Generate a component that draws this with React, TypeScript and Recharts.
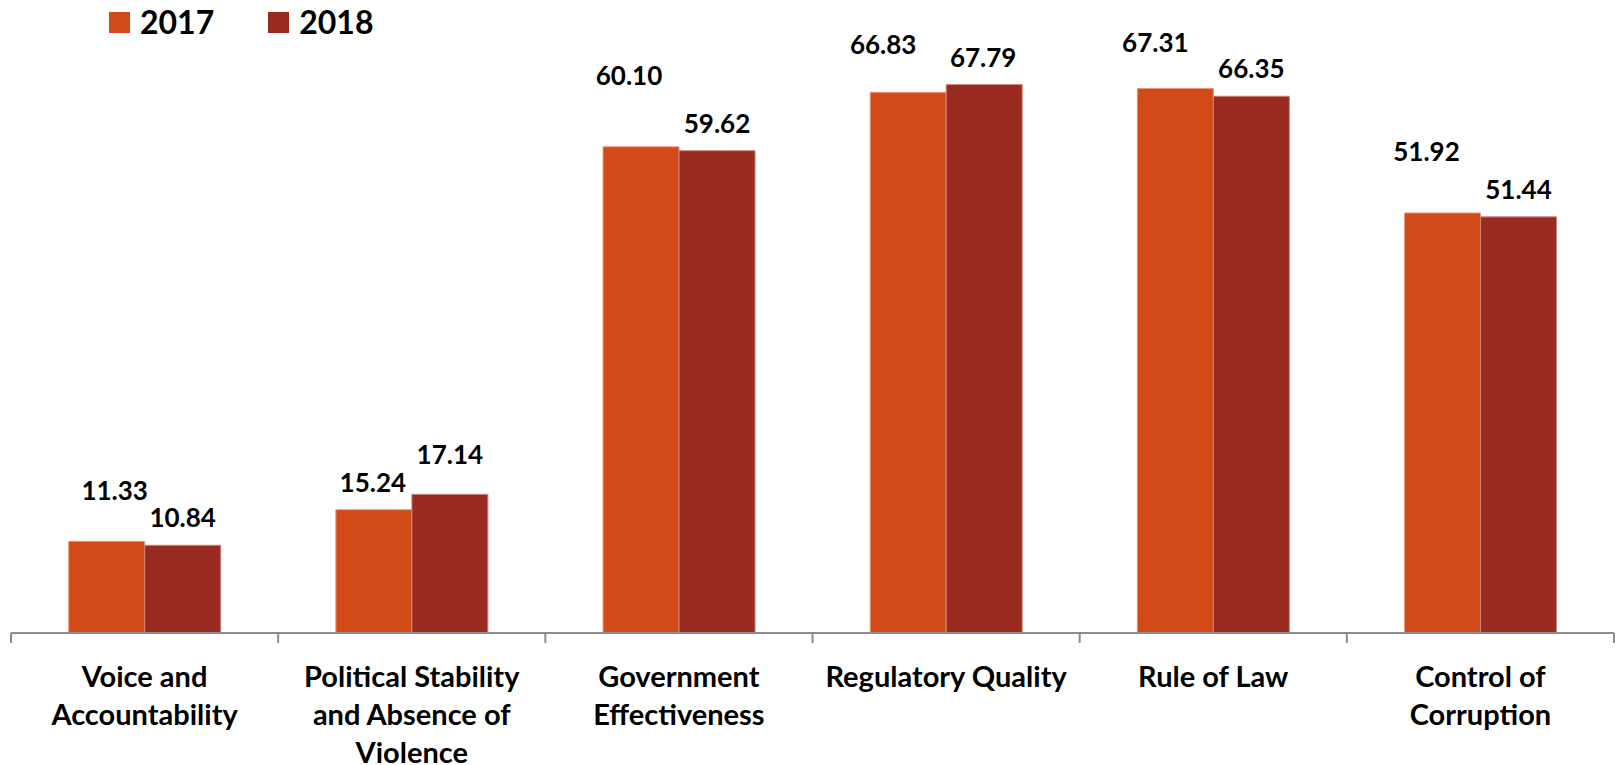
import { BarChart, Bar, XAxis, YAxis, Legend, LabelList } from 'recharts'

const categories = [
  'Voice and\nAccountability',
  'Political Stability\nand Absence of\nViolence',
  'Government\nEffectiveness',
  'Regulatory Quality',
  'Rule of Law',
  'Control of\nCorruption',
]
const values2017 = [11.33, 15.24, 60.1, 66.83, 67.31, 51.92]
const values2018 = [10.84, 17.14, 59.62, 67.79, 66.35, 51.44]

// hand-placed label nudges, relative to the top centre of each bar
const labelDx2017 = [8, -1, -12, -25, -20, -16]
const labelDy2017 = [-51, -28, -72, -48, -46, -62]
const labelDx2018 = [0, 0, 0, -1, 0, 0]
const labelDy2018 = [-28, -40, -28, -28, -28, -28]

const COLOR_2017 = '#D34A19'
const COLOR_2018 = '#9A2B20'
const FONT = 'Lato, "Open Sans", sans-serif'

const WIDTH = 1615
const HEIGHT = 765
const MARGIN = { top: 2, right: 1, bottom: 2, left: 11 }
const BAND = (WIDTH - MARGIN.left - MARGIN.right) / categories.length

const chartData = categories.map((name, i) => ({
  name,
  y2017: values2017[i],
  y2018: values2018[i],
}))

function makeLabel(dxs: number[], dys: number[]) {
  return (props: any) => {
    const { x, y, width, value, index } = props
    return (
      <text
        x={x + width / 2 + dxs[index]}
        y={y + dys[index]}
        textAnchor="middle"
        dominantBaseline="central"
        fontFamily={FONT}
        fontWeight={700}
        fontSize={26}
        fill="#000"
      >
        {Number(value).toFixed(2)}
      </text>
    )
  }
}

function CategoryTick(props: any) {
  const { x, y, payload, index } = props
  const lines = String(payload.value).split('\n')
  const left = x - BAND / 2
  return (
    <g>
      <line x1={left} x2={left} y1={y} y2={y + 10} stroke="#8c8c8c" strokeWidth={2} />
      {index === categories.length - 1 && (
        <line x1={left + BAND} x2={left + BAND} y1={y} y2={y + 10} stroke="#8c8c8c" strokeWidth={2} />
      )}
      <text textAnchor="middle" fontFamily={FONT} fontWeight={700} fontSize={29} fill="#000">
        {lines.map((line, i) => (
          <tspan key={i} x={x} y={y + 42 + i * 38} dominantBaseline="central">
            {line}
          </tspan>
        ))}
      </text>
    </g>
  )
}

function LegendBox() {
  const items = [
    { label: '2017', color: COLOR_2017 },
    { label: '2018', color: COLOR_2018 },
  ]
  return (
    <div style={{ display: 'flex', fontFamily: FONT, fontWeight: 700, fontSize: 32 }}>
      {items.map((it) => (
        <div key={it.label} style={{ display: 'flex', alignItems: 'center', marginRight: 54 }}>
          <span style={{ width: 21, height: 21, background: it.color, marginRight: 10 }} />
          <span style={{ color: '#000', lineHeight: '32px' }}>{it.label}</span>
        </div>
      ))}
    </div>
  )
}

export default function App() {
  return (
    <div style={{ position: 'absolute', left: 0, top: 0, background: '#fff' }}>
      <BarChart
        width={WIDTH}
        height={HEIGHT}
        data={chartData}
        margin={MARGIN}
        barCategoryGap="21.6%"
        barGap={0}
      >
        <XAxis
          dataKey="name"
          height={130}
          interval={0}
          tickLine={false}
          tickSize={0}
          tickMargin={0}
          axisLine={{ stroke: '#8c8c8c', strokeWidth: 2 }}
          tick={<CategoryTick />}
        />
        <YAxis hide domain={[0, 78]} />
        <Legend
          verticalAlign="middle"
          align="center"
          layout="horizontal"
          wrapperStyle={{ top: 6, left: 109, width: 'auto' }}
          content={<LegendBox />}
        />
        <Bar dataKey="y2017" fill={COLOR_2017} stroke="#e8957a" strokeWidth={1} isAnimationActive={false}>
          <LabelList dataKey="y2017" content={makeLabel(labelDx2017, labelDy2017)} />
        </Bar>
        <Bar dataKey="y2018" fill={COLOR_2018} stroke="#c9867c" strokeWidth={1} isAnimationActive={false}>
          <LabelList dataKey="y2018" content={makeLabel(labelDx2018, labelDy2018)} />
        </Bar>
      </BarChart>
    </div>
  )
}
